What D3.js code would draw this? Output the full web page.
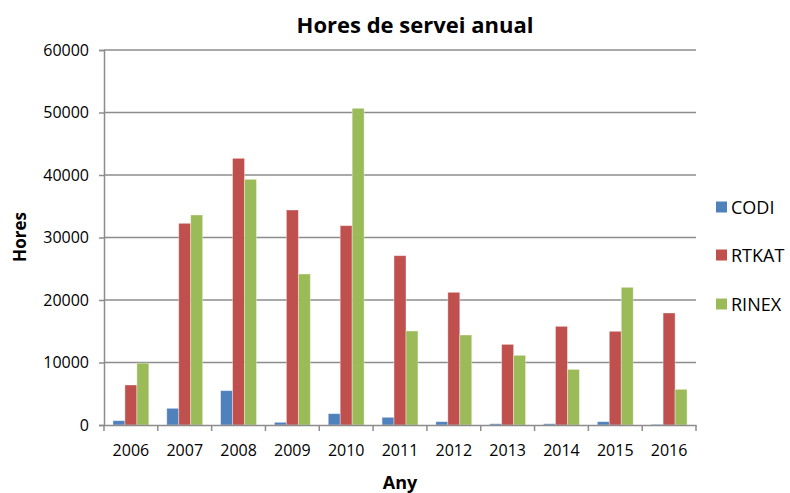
<!DOCTYPE html>
<html lang="ca">
<head>
    <meta charset="UTF-8">
    <title>Hores de servei anual</title>
    <script src="https://d3js.org/d3.v7.min.js"></script>
    <style>
        body { margin: 0; background: #fff; }
        text { font-family: "Open Sans", sans-serif; fill: #000; }
    </style>
</head>
<body>
<script>
    const years  = ["2006","2007","2008","2009","2010","2011","2012","2013","2014","2015","2016"];
    const series = ["CODI", "RTKAT", "RINEX"];
    const codi   = [690, 2670, 5490, 430, 1810, 1230, 530, 200, 200, 530, 100];
    const rtkat  = [6400, 32270, 42670, 34400, 31890, 27090, 21230, 12900, 15790, 14990, 17920];
    const rinex  = [9900, 33600, 39310, 24160, 50670, 15040, 14400, 11150, 8900, 22030, 5710];
    const yTicks = [0, 10000, 20000, 30000, 40000, 50000, 60000];
    const colors = ["#4F81BD", "#C0504D", "#9BBB59"];

    const width  = 790;
    const height = 493;
    const plot = {left: 104, right: 696, top: 50, bottom: 425};

    const data = years.map((y, i) => ({year: y, values: [codi[i], rtkat[i], rinex[i]]}));

    const svg = d3.select("body").append("svg")
            .attr("width", width)
            .attr("height", height);

    const x0 = d3.scaleBand()
            .domain(years)
            .range([plot.left, plot.right]);

    const x1 = d3.scaleBand()
            .domain(series)
            .range([0, x0.bandwidth()])
            .paddingInner(0)
            .paddingOuter(0.75);

    const y = d3.scaleLinear()
            .domain([0, 60000])
            .range([plot.bottom, plot.top]);

    const color = d3.scaleOrdinal().domain(series).range(colors);

    // gridlines
    svg.append("g")
       .selectAll("line")
       .data(yTicks.filter(d => d > 0))
       .join("line")
       .attr("x1", plot.left)
       .attr("x2", plot.right)
       .attr("y1", d => y(d))
       .attr("y2", d => y(d))
       .attr("stroke", "#8c8c8c")
       .attr("stroke-width", 1.5);

    // y axis
    const yAxis = svg.append("g")
       .attr("transform", "translate(" + plot.left + ",0)")
       .call(d3.axisLeft(y).tickValues(yTicks).tickSize(5).tickPadding(10).tickFormat(d3.format("d")));
    yAxis.select(".domain").attr("stroke", "#8c8c8c").attr("stroke-width", 1.5);
    yAxis.selectAll(".tick line").attr("stroke", "#8c8c8c").attr("stroke-width", 1.5);
    yAxis.selectAll(".tick text").style("font-size", "16px").attr("fill", "#000");

    // bars
    svg.append("g")
       .selectAll("g")
       .data(data)
       .join("g")
       .attr("transform", d => "translate(" + x0(d.year) + ",0)")
       .selectAll("rect")
       .data(d => d.values.map((v, i) => ({key: series[i], value: v})))
       .join("rect")
       .attr("x", d => x1(d.key))
       .attr("y", d => y(d.value))
       .attr("width", x1.bandwidth())
       .attr("height", d => y(0) - y(d.value))
       .attr("fill", d => color(d.key))
       .attr("stroke", "rgba(255,255,255,0.45)")
       .attr("stroke-width", 0.8);

    // x axis
    const xAxis = svg.append("g")
       .attr("transform", "translate(0," + plot.bottom + ")")
       .call(d3.axisBottom(x0).tickSize(0).tickPadding(20));
    xAxis.select(".domain").attr("stroke", "#8c8c8c").attr("stroke-width", 1.5);
    xAxis.selectAll(".tick text").style("font-size", "16px").attr("fill", "#000");

    // category boundary ticks
    svg.append("g")
       .selectAll("line")
       .data(years.concat(["end"]))
       .join("line")
       .attr("x1", (d, i) => plot.left + i * x0.step())
       .attr("x2", (d, i) => plot.left + i * x0.step())
       .attr("y1", plot.bottom)
       .attr("y2", plot.bottom + 6)
       .attr("stroke", "#8c8c8c")
       .attr("stroke-width", 1.5);

    // title
    svg.append("text")
       .attr("x", 415)
       .attr("y", 33)
       .attr("text-anchor", "middle")
       .style("font-size", "22px")
       .style("font-weight", "bold")
       .text("Hores de servei anual");

    // axis titles
    svg.append("text")
       .attr("x", 400)
       .attr("y", 489)
       .attr("text-anchor", "middle")
       .style("font-size", "18px")
       .style("font-weight", "bold")
       .text("Any");

    svg.append("text")
       .attr("transform", "translate(26,237) rotate(-90)")
       .attr("text-anchor", "middle")
       .style("font-size", "17px")
       .style("font-weight", "bold")
       .text("Hores");

    // legend
    const legendY = [207, 255, 304];
    const legend = svg.append("g")
       .selectAll("g")
       .data(series)
       .join("g")
       .attr("transform", (d, i) => "translate(716," + legendY[i] + ")");
    legend.append("rect")
       .attr("x", 0)
       .attr("y", -5.5)
       .attr("width", 11)
       .attr("height", 11)
       .attr("fill", d => color(d));
    legend.append("text")
       .attr("x", 15)
       .attr("y", 6.5)
       .style("font-size", "18px")
       .text(d => d);
</script>
</body>
</html>
